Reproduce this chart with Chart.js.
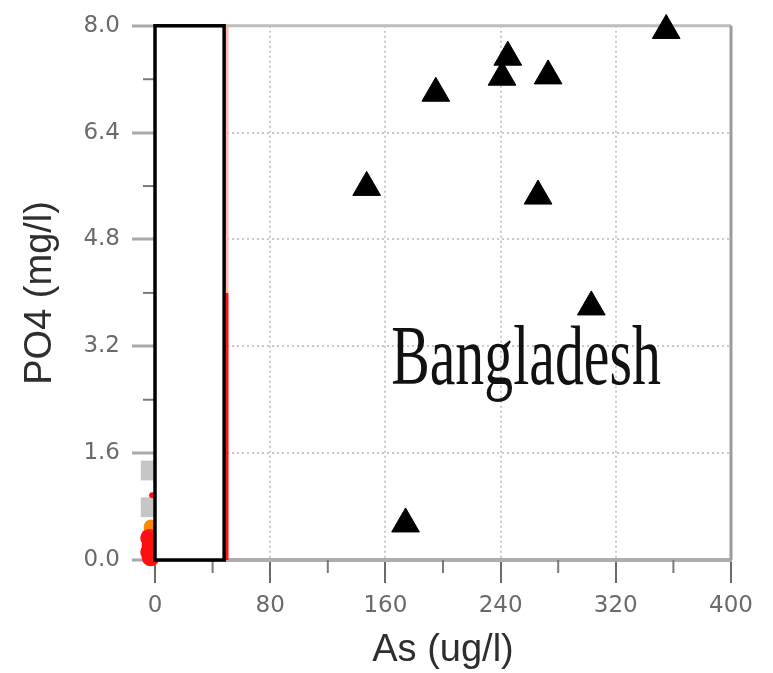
<!DOCTYPE html>
<html>
<head>
<meta charset="utf-8">
<script src="https://cdn.jsdelivr.net/npm/chart.js@4.4.1/dist/chart.umd.min.js"></script>
<style>
  html, body { margin: 0; padding: 0; background: #fff; }
</style>
</head>
<body>
<canvas id="po4Chart" width="773" height="673"></canvas>
<script>
// Bangladesh wells: arsenic vs phosphate
const asBangladesh  = [355, 245, 241, 273, 195, 147, 266, 303, 174];
const po4Bangladesh = [7.93, 7.53, 7.23, 7.25, 6.99, 5.58, 5.45, 3.79, 0.54];

// low-arsenic samples squeezed against the PO4 axis
const greyAs   = [-3, -3];
const greyPo4  = [1.34, 0.79];
const orangeAs  = [-3, -3];
const orangePo4 = [0.45, 0.5];
const redAs  = [-4, -3, -4, -3, -2];
const redPo4 = [0.33, 0.22, 0.12, 0.04, 0.97];

// axis ticks
const asTicks  = [0, 80, 160, 240, 320, 400];
const po4Ticks = [0, 1.6, 3.2, 4.8, 6.4, 8.0];
const asMinor  = [40, 120, 200, 280, 360];
const po4Minor = [0.8, 2.4, 4.0, 5.6, 7.2];

// blank box over the low range and the 50 ug/l limit line
const boxAs  = [0, 48];
const boxPo4 = [0, 8];
const limitAs  = 50;
const limitPo4 = 4.0;

const regionLabel = "Bangladesh";
const regionLabelAt = [164, 2.64];

const toPoints = (xs, ys) => xs.map((v, i) => ({ x: v, y: ys[i] }));

const strokeLine = (ctx, x1, y1, x2, y2) => {
  ctx.beginPath();
  ctx.moveTo(x1, y1);
  ctx.lineTo(x2, y2);
  ctx.stroke();
};

const overlayPlugin = {
  id: "overlay",
  beforeDatasetsDraw(chart) {
    const { ctx, chartArea, scales: { x, y } } = chart;
    ctx.save();
    // frame on top and right
    ctx.lineWidth = 3;
    ctx.strokeStyle = "#bdbdbd";
    strokeLine(ctx, chartArea.left, y.getPixelForValue(8), chartArea.right, y.getPixelForValue(8));
    ctx.strokeStyle = "#9c9c9c";
    strokeLine(ctx, x.getPixelForValue(400), chartArea.top, x.getPixelForValue(400), chartArea.bottom);
    // minor ticks
    ctx.lineWidth = 2;
    ctx.strokeStyle = "#7a7a7a";
    po4Minor.forEach(v => {
      const py = y.getPixelForValue(v);
      strokeLine(ctx, chartArea.left - 12, py, chartArea.left, py);
    });
    asMinor.forEach(v => {
      const px = x.getPixelForValue(v);
      strokeLine(ctx, px, chartArea.bottom, px, chartArea.bottom + 13);
    });
    ctx.restore();
  },
  beforeDatasetDraw(chart, args) {
    if (args.index !== 0) return; // box sits over the small points, under the triangles
    const { ctx, scales: { x, y } } = chart;
    const left = x.getPixelForValue(boxAs[0]);
    const right = x.getPixelForValue(boxAs[1]);
    const top = y.getPixelForValue(boxPo4[1]);
    const bottom = y.getPixelForValue(boxPo4[0]);
    const lx = x.getPixelForValue(limitAs);
    ctx.save();
    ctx.fillStyle = "#fff";
    ctx.fillRect(left, top, right - left, bottom - top);
    ctx.lineWidth = 3;
    ctx.strokeStyle = "#ffb6b6";
    strokeLine(ctx, lx, top, lx, y.getPixelForValue(limitPo4));
    ctx.strokeStyle = "#ff1414";
    strokeLine(ctx, lx, y.getPixelForValue(limitPo4), lx, bottom);
    ctx.lineWidth = 3.5;
    ctx.strokeStyle = "#000";
    ctx.strokeRect(left, top, right - left, bottom - top);
    ctx.restore();
  },
  afterDatasetsDraw(chart) {
    const { ctx, scales: { x, y } } = chart;
    ctx.save();
    ctx.translate(x.getPixelForValue(regionLabelAt[0]), y.getPixelForValue(regionLabelAt[1]));
    ctx.scale(0.68, 1);
    ctx.font = '85px "Liberation Serif"';
    ctx.fillStyle = "#111";
    ctx.textBaseline = "alphabetic";
    ctx.fillText(regionLabel, 0, 0);
    ctx.restore();
  }
};

Chart.defaults.font.family = '"DejaVu Sans"';

new Chart(document.getElementById("po4Chart"), {
  type: "scatter",
  data: {
    datasets: [
      {
        label: regionLabel,
        data: toPoints(asBangladesh, po4Bangladesh),
        pointStyle: "triangle",
        pointRadius: 16,
        backgroundColor: "#000",
        borderColor: "#000",
        borderWidth: 1,
        clip: false
      },
      {
        label: "red",
        data: toPoints(redAs, redPo4),
        pointRadius: [9, 9, 9, 9, 3],
        backgroundColor: "#ff0f0f",
        borderColor: "#ff0f0f",
        borderWidth: 0,
        clip: false
      },
      {
        label: "orange",
        data: toPoints(orangeAs, orangePo4),
        pointRadius: 7,
        backgroundColor: "#ff8a00",
        borderColor: "#ff8a00",
        borderWidth: 0,
        clip: false
      },
      {
        label: "grey",
        data: toPoints(greyAs, greyPo4),
        pointStyle: "rect",
        pointRadius: 14,
        backgroundColor: "#c6c6c6",
        borderColor: "#c6c6c6",
        borderWidth: 0,
        clip: false
      }
    ]
  },
  options: {
    responsive: false,
    animation: false,
    events: [],
    layout: { padding: { top: 24, right: 42, left: 0, bottom: 0 } },
    plugins: { legend: { display: false }, tooltip: { enabled: false } },
    scales: {
      x: {
        type: "linear",
        min: asTicks[0],
        max: asTicks[asTicks.length - 1],
        afterFit: s => { s.height = 113; },
        afterBuildTicks: s => { s.ticks = asTicks.map(v => ({ value: v })); },
        ticks: { padding: 9, color: "#6a6a6a", font: { size: 23 } },
        grid: {
          color: c => (c.tick && (c.tick.value === 0 || c.tick.value === 400)) ? "rgba(0,0,0,0)" : "#c9c9c9",
          lineWidth: 2,
          tickColor: "#6a6a6a",
          tickLength: 23,
          tickWidth: 2
        },
        border: { color: "#adadad", width: 4, dash: [2, 3] },
        title: {
          display: true,
          text: "As (ug/l)",
          color: "#2e2e2e",
          font: { family: '"Liberation Sans"', size: 38 },
          padding: { top: 0, bottom: 0 }
        }
      },
      y: {
        type: "linear",
        min: po4Ticks[0],
        max: po4Ticks[po4Ticks.length - 1],
        afterFit: s => { s.width = 155; },
        afterBuildTicks: s => { s.ticks = po4Ticks.map(v => ({ value: v })); },
        ticks: {
          padding: 12,
          color: "#6a6a6a",
          font: { size: 23 },
          callback: v => Number(v).toFixed(1)
        },
        grid: {
          color: c => (c.tick && (c.tick.value === 0 || c.tick.value === 8)) ? "rgba(0,0,0,0)" : "#c9c9c9",
          lineWidth: 2,
          tickColor: "#a9a9a9",
          tickLength: 23,
          tickWidth: 3
        },
        border: { color: "#3a3a3a", width: 3, dash: [2, 3] },
        title: {
          display: true,
          text: "PO4 (mg/l)",
          color: "#2e2e2e",
          font: { family: '"Liberation Sans"', size: 38 },
          padding: { top: 18, bottom: 0 }
        }
      }
    }
  },
  plugins: [overlayPlugin]
});
</script>
</body>
</html>
